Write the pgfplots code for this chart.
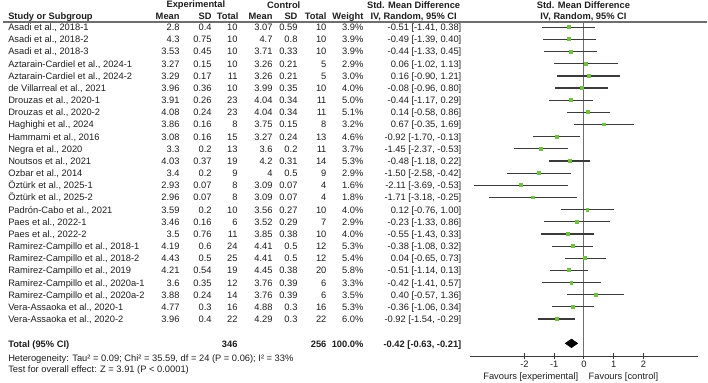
\documentclass[border=0pt]{standalone}
\usepackage{pgfplots}
\pgfplotsset{compat=1.18}
\usepackage{pgfplotstable}
\usepackage{fontspec}
\setmainfont{Liberation Sans}
\definecolor{sq}{HTML}{72C043}
\definecolor{ci}{HTML}{3A3A3A}
\definecolor{zl}{HTML}{6E6E6E}
\definecolor{tx}{HTML}{1E1E1E}

\pgfplotstableread{
row est lo hi
1 -0.51 -1.41 0.38
2 -0.49 -1.39 0.40
3 -0.44 -1.33 0.45
4 0.06 -1.02 1.13
5 0.16 -0.90 1.21
6 -0.08 -0.96 0.80
7 -0.44 -1.17 0.29
8 0.14 -0.58 0.86
9 0.67 -0.35 1.69
10 -0.92 -1.70 -0.13
11 -1.45 -2.37 -0.53
12 -0.48 -1.18 0.22
13 -1.50 -2.58 -0.42
14 -2.11 -3.69 -0.53
15 -1.71 -3.18 -0.25
16 0.12 -0.76 1.00
17 -0.23 -1.33 0.86
18 -0.55 -1.43 0.33
19 -0.38 -1.08 0.32
20 0.04 -0.65 0.73
21 -0.51 -1.14 0.13
22 -0.42 -1.41 0.57
23 0.40 -0.57 1.36
24 -0.36 -1.06 0.34
25 -0.92 -1.54 -0.29
}\forestdata

\newcounter{r}
\newcommand\srow[9]{%
  \stepcounter{r}%
  \pgfmathsetmacro\yy{27.3+(\value{r}-1)*12.17+3.4}%
  \node[anchor=base west] at (8,\yy) {#1};
  \node[anchor=base east] at (180,\yy) {#2};
  \node[anchor=base east] at (212,\yy) {#3};
  \node[anchor=base east] at (238,\yy) {#4};
  \node[anchor=base east] at (273,\yy) {#5};
  \node[anchor=base east] at (298,\yy) {#6};
  \node[anchor=base east] at (327,\yy) {#7};
  \node[anchor=base east] at (364,\yy) {#8};
  \node[anchor=base east] at (462,\yy) {#9};
}

\begin{document}
\begin{tikzpicture}[font=\fontsize{7}{8.4}\selectfont]
\begin{scope}[x=0.75pt,y=-0.75pt,every node/.style={inner sep=0pt,text=tx}]
\path (0,0) rectangle (708,383);
% headers
\node[font=\fontsize{7}{8.4}\selectfont\bfseries] at (196,5.5) {Experimental};
\node[font=\fontsize{7}{8.4}\selectfont\bfseries] at (284,5.5) {Control};
\node[font=\fontsize{7}{8.4}\selectfont\bfseries] at (414,5.5) {Std. Mean Difference};
\node[font=\fontsize{7}{8.4}\selectfont\bfseries] at (584,5.5) {Std. Mean Difference};
\begin{scope}[every node/.append style={font=\fontsize{7}{8.4}\selectfont\bfseries}]
\node[anchor=base west] at (8,20) {Study or Subgroup};
\node[anchor=base east] at (180,20) {Mean};
\node[anchor=base east] at (212,20) {SD};
\node[anchor=base east] at (239,20) {Total};
\node[anchor=base east] at (273,20) {Mean};
\node[anchor=base east] at (298,20) {SD};
\node[anchor=base east] at (327,20) {Total};
\node[anchor=base east] at (364,20) {Weight};
\node[anchor=base] at (414,20) {IV, Random, 95\% CI};
\node[anchor=base] at (584,20) {IV, Random, 95\% CI};
\end{scope}
\draw[zl, line width=1pt] (3,22) -- (708,22);
% rows
\srow{Asadi et al., 2018-1}{2.8}{0.4}{10}{3.07}{0.59}{10}{3.9\%}{-0.51 [-1.41, 0.38]}
\srow{Asadi et al., 2018-2}{4.3}{0.75}{10}{4.7}{0.8}{10}{3.9\%}{-0.49 [-1.39, 0.40]}
\srow{Asadi et al., 2018-3}{3.53}{0.45}{10}{3.71}{0.33}{10}{3.9\%}{-0.44 [-1.33, 0.45]}
\srow{Aztarain-Cardiel et al., 2024-1}{3.27}{0.15}{10}{3.26}{0.21}{5}{2.9\%}{0.06 [-1.02, 1.13]}
\srow{Aztarain-Cardiel et al., 2024-2}{3.29}{0.17}{11}{3.26}{0.21}{5}{3.0\%}{0.16 [-0.90, 1.21]}
\srow{de Villarreal et al., 2021}{3.96}{0.36}{10}{3.99}{0.35}{10}{4.0\%}{-0.08 [-0.96, 0.80]}
\srow{Drouzas et al., 2020-1}{3.91}{0.26}{23}{4.04}{0.34}{11}{5.0\%}{-0.44 [-1.17, 0.29]}
\srow{Drouzas et al., 2020-2}{4.08}{0.24}{23}{4.04}{0.34}{11}{5.1\%}{0.14 [-0.58, 0.86]}
\srow{Haghighi et al., 2024}{3.86}{0.16}{8}{3.75}{0.15}{8}{3.2\%}{0.67 [-0.35, 1.69]}
\srow{Hammami et al., 2016}{3.08}{0.16}{15}{3.27}{0.24}{13}{4.6\%}{-0.92 [-1.70, -0.13]}
\srow{Negra et al., 2020}{3.3}{0.2}{13}{3.6}{0.2}{11}{3.7\%}{-1.45 [-2.37, -0.53]}
\srow{Noutsos et al., 2021}{4.03}{0.37}{19}{4.2}{0.31}{14}{5.3\%}{-0.48 [-1.18, 0.22]}
\srow{Ozbar et al., 2014}{3.4}{0.2}{9}{4}{0.5}{9}{2.9\%}{-1.50 [-2.58, -0.42]}
\srow{Öztürk et al., 2025-1}{2.93}{0.07}{8}{3.09}{0.07}{4}{1.6\%}{-2.11 [-3.69, -0.53]}
\srow{Öztürk et al., 2025-2}{2.96}{0.07}{8}{3.09}{0.07}{4}{1.8\%}{-1.71 [-3.18, -0.25]}
\srow{Padrón-Cabo et al., 2021}{3.59}{0.2}{10}{3.56}{0.27}{10}{4.0\%}{0.12 [-0.76, 1.00]}
\srow{Paes et al., 2022-1}{3.46}{0.16}{6}{3.52}{0.29}{7}{2.9\%}{-0.23 [-1.33, 0.86]}
\srow{Paes et al., 2022-2}{3.5}{0.76}{11}{3.85}{0.38}{10}{4.0\%}{-0.55 [-1.43, 0.33]}
\srow{Ramirez-Campillo et al., 2018-1}{4.19}{0.6}{24}{4.41}{0.5}{12}{5.3\%}{-0.38 [-1.08, 0.32]}
\srow{Ramirez-Campillo et al., 2018-2}{4.43}{0.5}{25}{4.41}{0.5}{12}{5.4\%}{0.04 [-0.65, 0.73]}
\srow{Ramirez-Campillo et al., 2019}{4.21}{0.54}{19}{4.45}{0.38}{20}{5.8\%}{-0.51 [-1.14, 0.13]}
\srow{Ramirez-Campillo et al., 2020a-1}{3.6}{0.35}{12}{3.76}{0.39}{6}{3.3\%}{-0.42 [-1.41, 0.57]}
\srow{Ramirez-Campillo et al., 2020a-2}{3.88}{0.24}{14}{3.76}{0.39}{6}{3.5\%}{0.40 [-0.57, 1.36]}
\srow{Vera-Assaoka et al., 2020-1}{4.77}{0.3}{16}{4.88}{0.3}{16}{5.3\%}{-0.36 [-1.06, 0.34]}
\srow{Vera-Assaoka et al., 2020-2}{3.96}{0.4}{22}{4.29}{0.3}{22}{6.0\%}{-0.92 [-1.54, -0.29]}
% total
\begin{scope}[every node/.append style={font=\fontsize{7}{8.4}\selectfont\bfseries}]
\node[anchor=base west] at (8,347.8) {Total (95\% CI)};
\node[anchor=base east] at (238,347.8) {346};
\node[anchor=base east] at (327,347.8) {256};
\node[anchor=base east] at (364,347.8) {100.0\%};
\node[anchor=base east] at (462,347.8) {-0.42 [-0.63, -0.21]};
\end{scope}
\node[anchor=base west] at (8,362.2) {Heterogeneity: Tau² = 0.09; Chi² = 35.59, df = 24 (P = 0.06); I² = 33\%};
\node[anchor=base west] at (8,373.2) {Test for overall effect: Z = 3.91 (P < 0.0001)};
\node[anchor=base east] at (579,380) {Favours [experimental]};
\node[anchor=base west] at (589,380) {Favours [control]};
\end{scope}
\begin{axis}[
  at={(470*0.75pt,-356.7*0.75pt)}, anchor=south west,
  scale only axis, width=171.75pt, height=251.25pt,
  xmin=-3.85, xmax=3.85, ymin=-28.07, ymax=-0.54,
  axis x line=bottom, axis y line=none,
  axis line style={ci, line width=0.75pt, -},
  xtick={-2,-1,0,1,2},
  tick align=center, major tick length=4.5pt,
  tick style={ci, line width=0.75pt},
  xticklabel style={font=\fontsize{7}{8.4}\selectfont, text=tx, inner sep=1pt},
  /pgf/number format/assume math mode=true,
  clip=false,
]
\addplot[zl, line width=0.75pt, forget plot] coordinates {(0,-0.54) (0,-28.07)};
\addplot[draw=none, mark=none,
  error bars/.cd, x dir=both, x explicit, error mark=none,
  error bar style={draw=ci, line width=0.9pt}]
  table[x=est, y expr=-\thisrow{row},
        x error plus expr=\thisrow{hi}-\thisrow{est},
        x error minus expr=\thisrow{est}-\thisrow{lo}] {\forestdata};
\addplot[color=sq, only marks, mark=square*, mark size=1.1pt, mark options={solid, fill=sq, draw=sq, line width=0pt}]
  table[x=est, y expr=-\thisrow{row}] {\forestdata};
\addplot[fill=black, draw=black] coordinates {(-0.63,-27) (-0.42,-26.65) (-0.21,-27) (-0.42,-27.35)} -- cycle;
\end{axis}
\end{tikzpicture}
\end{document}
